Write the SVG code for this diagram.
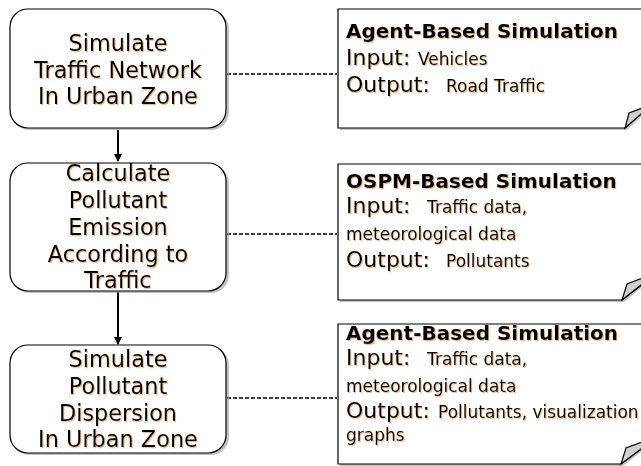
<svg xmlns="http://www.w3.org/2000/svg" width="641" height="466" viewBox="0 0 641 466">
<defs>
<style>
.box{fill:#fff;stroke:#000;stroke-width:1.2}
.shadow{fill:#999;opacity:0.6}
.nt{font-family:"DejaVu Sans",sans-serif;font-size:22.4px;text-anchor:middle;fill:#000}
.t{font-family:"DejaVu Sans",sans-serif;fill:#000}
.title{font-size:20px;font-weight:bold}
.lab{font-size:22px}
.val{font-size:17px}
.dash{stroke:#000;stroke-width:1.6;stroke-dasharray:4,2;fill:none}
.arr{stroke:#000;stroke-width:2;fill:none}
.fold{fill:#d0d0d0;stroke:#000;stroke-width:1.2}
</style>
<marker id="ah" markerWidth="8" markerHeight="8" refX="7" refY="4" orient="auto" markerUnits="userSpaceOnUse">
<path d="M0,0 L8,4 L0,8 Z" fill="#000"/>
</marker>
<filter id="ts" x="-5%" y="-5%" width="110%" height="120%">
<feDropShadow dx="1" dy="1.2" stdDeviation="0.3" flood-color="#d08020" flood-opacity="0.5"/>
</filter>
</defs>

<g id="connectors">
<line class="arr" x1="118" y1="130" x2="118" y2="161" marker-end="url(#ah)"/>
<line class="arr" x1="118" y1="292" x2="118" y2="344" marker-end="url(#ah)"/>
<line class="dash" x1="227" y1="74" x2="337" y2="74"/>
<line class="dash" x1="227" y1="234" x2="337" y2="234"/>
<line class="dash" x1="227" y1="398" x2="337" y2="398"/>
</g>

<g id="node1">
<rect class="shadow" x="12" y="11" width="217" height="119" rx="18"/>
<rect class="box" x="10" y="9" width="216" height="119" rx="18"/>
<g filter="url(#ts)">
<text class="nt" x="118" y="51">Simulate</text>
<text class="nt" x="118" y="78">Traffic Network</text>
<text class="nt" x="118" y="104">In Urban Zone</text>
</g>
</g>

<g id="node2">
<rect class="shadow" x="12" y="165" width="217" height="128" rx="18"/>
<rect class="box" x="10" y="163" width="216" height="128" rx="18"/>
<g filter="url(#ts)">
<text class="nt" x="118" y="181">Calculate</text>
<text class="nt" x="118" y="208">Pollutant</text>
<text class="nt" x="118" y="235">Emission</text>
<text class="nt" x="118" y="262">According to</text>
<text class="nt" x="118" y="288">Traffic</text>
</g>
</g>

<g id="node3">
<rect class="shadow" x="12" y="347" width="217" height="108" rx="18"/>
<rect class="box" x="10" y="345" width="216" height="108" rx="18"/>
<g filter="url(#ts)">
<text class="nt" x="118" y="367">Simulate</text>
<text class="nt" x="118" y="394">Pollutant</text>
<text class="nt" x="118" y="421">Dispersion</text>
<text class="nt" x="118" y="447">In Urban Zone</text>
</g>
</g>

<g id="note1">
<path d="M340,11 L645,11 L645,113 L627,130 L340,130 Z" fill="#999" opacity="0.6"/>
<path d="M338,9 L645,9 L645,110.5 L625,128 L338,128 Z" class="box"/>
<path d="M625,128 L629,113 L645,107 L645,110.5 Z" class="fold"/>
<g filter="url(#ts)">
<text class="t title" x="346" y="38">Agent-Based Simulation</text>
<text class="t" x="346" y="65"><tspan class="lab">Input: </tspan><tspan class="val" x="418">Vehicles</tspan></text>
<text class="t" x="346" y="92"><tspan class="lab">Output: </tspan><tspan class="val" x="446">Road Traffic</tspan></text>
</g>
</g>

<g id="note2">
<path d="M340,166 L645,166 L645,285 L624,302 L340,302 Z" fill="#999" opacity="0.6"/>
<path d="M338,164 L645,164 L645,282 L622,300 L338,300 Z" class="box"/>
<path d="M622,300 L627,284 L645,277 L645,282 Z" class="fold"/>
<g filter="url(#ts)">
<text class="t title" x="346" y="188">OSPM-Based Simulation</text>
<text class="t" x="346" y="213"><tspan class="lab">Input: </tspan><tspan class="val" x="427">Traffic data,</tspan></text>
<text class="t val" x="346" y="240">meteorological data</text>
<text class="t" x="346" y="267"><tspan class="lab">Output: </tspan><tspan class="val" x="446">Pollutants</tspan></text>
</g>
</g>

<g id="note3">
<path d="M340,326 L645,326 L645,449 L623,466 L340,466 Z" fill="#999" opacity="0.6"/>
<path d="M338,324 L645,324 L645,446 L621,464 L338,464 Z" class="box"/>
<path d="M621,464 L626,448 L645,441 L645,446 Z" class="fold"/>
<g filter="url(#ts)">
<text class="t title" x="346" y="340">Agent-Based Simulation</text>
<text class="t" x="346" y="365"><tspan class="lab">Input: </tspan><tspan class="val" x="427">Traffic data,</tspan></text>
<text class="t val" x="346" y="392">meteorological data</text>
<text class="t" x="346" y="418"><tspan class="lab">Output: </tspan><tspan class="val" x="438">Pollutants, visualization</tspan></text>
<text class="t val" x="346" y="441">graphs</text>
</g>
</g>
</svg>
